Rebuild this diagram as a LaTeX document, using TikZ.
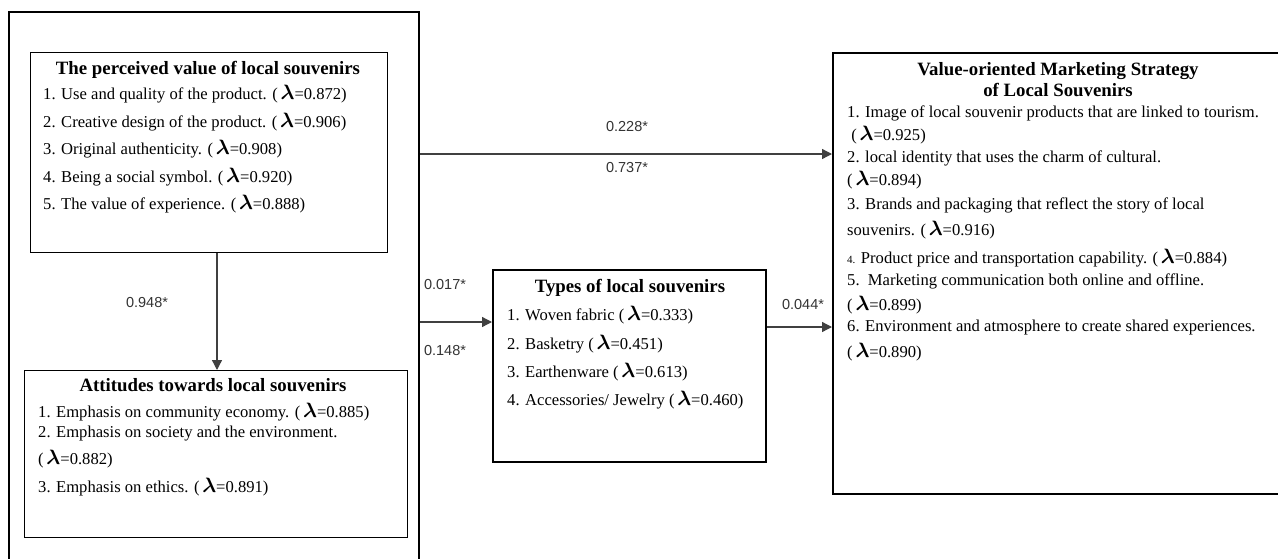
\documentclass[tikz,border=0pt]{standalone}
\usepackage{fontspec}
\setmainfont{Liberation Serif}
\newfontfamily\lblfont{Liberation Sans}
\usetikzlibrary{arrows.meta}
\newcommand{\lam}{{\fontsize{21}{21}\selectfont\boldmath$\lambda$}}
\tikzset{
  boxA/.style={draw=black, line width=1.3pt, inner sep=0pt, anchor=north west},
  boxB/.style={draw=black, line width=2.4pt, inner sep=0pt, anchor=north west},
  ttl/.style={font=\fontsize{18.8}{20}\selectfont\bfseries, inner sep=0pt, anchor=mid},
  itm/.style={font=\fontsize{16.6}{18}\selectfont, inner sep=0pt, anchor=mid west},
  lbl/.style={font=\lblfont\fontsize{14.5}{16}\selectfont, text=black!80, inner sep=0pt},
  arr/.style={draw=black!75, line width=1.3pt, -{Triangle[length=10pt,width=10pt]}},
}
\begin{document}
\begin{tikzpicture}[x=1pt,y=-1pt]
\useasboundingbox (0,0) rectangle (1278,558);
% boxes
\node[boxA, line width=2pt, minimum width=410pt, minimum height=580pt] (outer) at (8,11) {};
\node[boxA, minimum width=357pt, minimum height=200pt] (pvbox) at (30,52) {};
\node[boxA, minimum width=383pt, minimum height=167pt] (atbox) at (24,370) {};
\node[boxB, minimum width=273pt, minimum height=192pt] (tybox) at (492,269) {};
\node[boxB, minimum width=470pt, minimum height=441pt] (rtbox) at (832,52) {};
% perceived value
\node[ttl] (pvt) at (208,72) {The perceived value of local souvenirs};
\node[itm] (pv1) at (43,97) {1. Use and quality of the product. (\,\lam=0.872)};
\node[itm] (pv2) at (43,125) {2. Creative design of the product. (\,\lam=0.906)};
\node[itm] (pv3) at (43,152) {3. Original authenticity. (\,\lam=0.908)};
\node[itm] (pv4) at (43,180) {4. Being a social symbol. (\,\lam=0.920)};
\node[itm] (pv5) at (43,207) {5. The value of experience. (\,\lam=0.888)};
% attitudes
\node[ttl] (att) at (213,389) {Attitudes towards local souvenirs};
\node[itm] (at1) at (38,415) {1. Emphasis on community economy. (\,\lam=0.885)};
\node[itm] (at2) at (38,435) {2. Emphasis on society and the environment.};
\node[itm] (at2b) at (38,462) {(\,\lam=0.882)};
\node[itm] (at3) at (38,490) {3. Emphasis on ethics. (\,\lam=0.891)};
% types
\node[ttl] (tyt) at (630,290) {Types of local souvenirs};
\node[itm] (ty1) at (507,318) {1. Woven fabric (\,\lam=0.333)};
\node[itm] (ty2) at (507,347) {2. Basketry (\,\lam=0.451)};
\node[itm] (ty3) at (507,375) {3. Earthenware (\,\lam=0.613)};
\node[itm] (ty4) at (507,403) {4. Accessories/ Jewelry (\,\lam=0.460)};
% right
\node[ttl] (rtt1) at (1058,73) {Value-oriented Marketing Strategy};
\node[ttl] (rtt2) at (1058,94) {of Local Souvenirs};
\node[itm] (rt1) at (847,115) {1. Image of local souvenir products that are linked to tourism.};
\node[itm] (rt1b) at (847,138) {\ (\,\lam=0.925)};
\node[itm] (rt2) at (847,160) {2. local identity that uses the charm of cultural.};
\node[itm] (rt2b) at (847,183) {(\,\lam=0.894)};
\node[itm] (rt3) at (847,207) {3. Brands and packaging that reflect the story of local};
\node[itm] (rt3b) at (847,233) {souvenirs. (\,\lam=0.916)};
\node[itm] (rt4) at (847,261) {{\fontsize{11}{12}\selectfont 4.} Product price and transportation capability. (\,\lam=0.884)};
\node[itm] (rt5) at (847,283) {5.\ \ Marketing communication both online and offline.};
\node[itm] (rt5b) at (847,308) {(\,\lam=0.899)};
\node[itm] (rt6) at (847,329) {6. Environment and atmosphere to create shared experiences.};
\node[itm] (rt6b) at (847,355) {(\,\lam=0.890)};
% connectors
\coordinate (ax) at (217,0);
\coordinate (y1) at (0,154);
\coordinate (y2) at (0,322);
\coordinate (y3) at (0,327);
\draw[arr] (pvbox.south -| ax) -- (atbox.north -| ax);
\draw[arr] (outer.east |- y1) -- (rtbox.west |- y1);
\draw[arr] (outer.east |- y2) -- (tybox.west |- y2);
\draw[arr] (tybox.east |- y3) -- (rtbox.west |- y3);
% labels
\node[lbl] (l1) at (627,127) {0.228*};
\node[lbl] (l2) at (627,168) {0.737*};
\node[lbl] (l3) at (147,303) {0.948*};
\node[lbl] (l4) at (445,285) {0.017*};
\node[lbl] (l5) at (445,350) {0.148*};
\node[lbl] (l6) at (803,305) {0.044*};
\end{tikzpicture}
\end{document}
